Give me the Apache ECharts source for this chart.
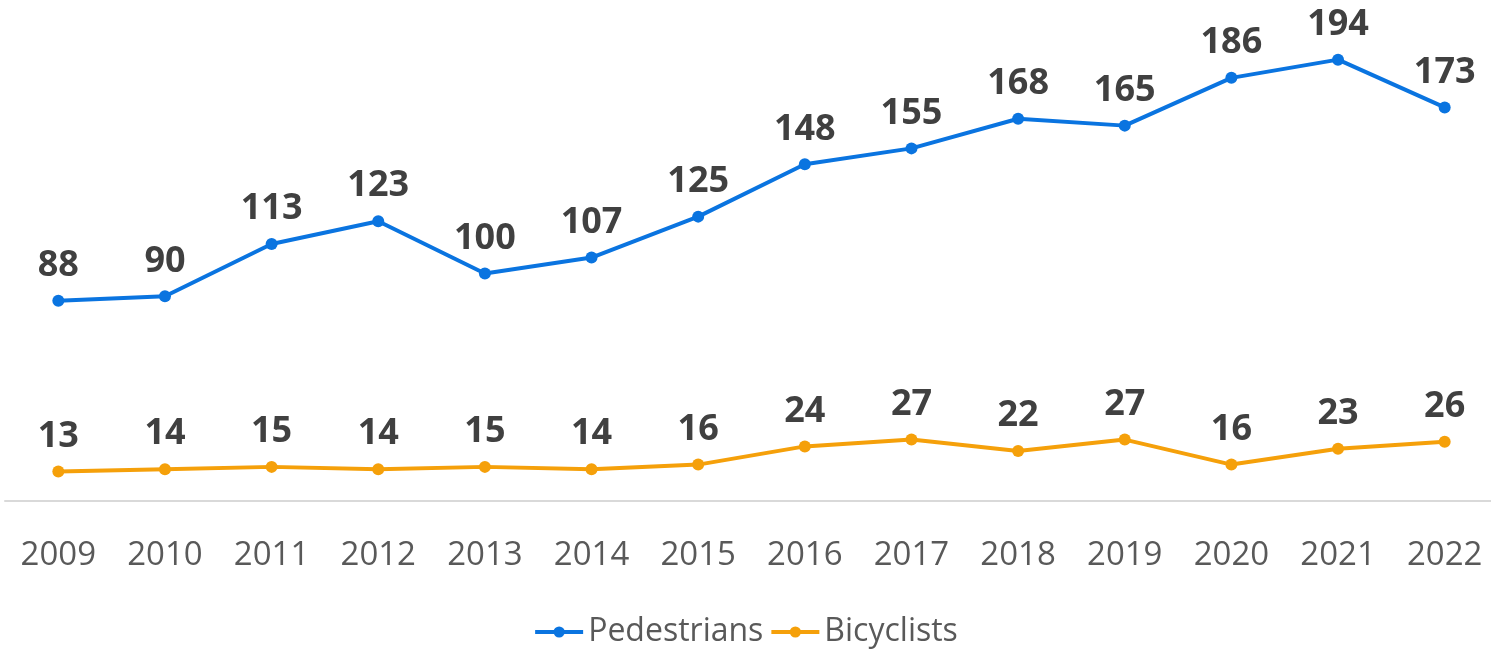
<!DOCTYPE html>
<html>
<head>
<meta charset="utf-8">
<script src="https://cdn.jsdelivr.net/npm/echarts@6/dist/echarts.min.js"></script>
<style>
  html, body { margin: 0; padding: 0; background: #fff; }
  #main { width: 1491px; height: 653px; }
</style>
</head>
<body>
<div id="main"></div>
<script>
const years = ['2009', '2010', '2011', '2012', '2013', '2014', '2015', '2016', '2017', '2018', '2019', '2020', '2021', '2022']
const pedestrians = [88, 90, 113, 123, 100, 107, 125, 148, 155, 168, 165, 186, 194, 173]
const bicyclists = [13, 14, 15, 14, 15, 14, 16, 24, 27, 22, 27, 16, 23, 26]

const font = "'Open Sans', 'Noto Sans', sans-serif"

function lineSeries (name, data, color) {
  return {
    name: name,
    type: 'line',
    data: data,
    symbol: 'circle',
    symbolSize: 12,
    lineStyle: { width: 4, color: color },
    itemStyle: { color: color },
    label: {
      show: true,
      position: 'top',
      distance: 11,
      fontFamily: font,
      fontWeight: 'bold',
      fontSize: 36,
      color: '#404040'
    }
  }
}

let myChart = echarts.init(document.getElementById('main'))
let option = {
  animation: false,
  grid: { left: 5, width: 1493, top: 46, bottom: 152, outerBoundsMode: 'none' },
  legend: {
    bottom: 0,
    left: 'center',
    itemWidth: 48,
    itemHeight: 14,
    itemGap: 6,
    lineStyle: { width: 4 },
    textStyle: { fontFamily: font, fontSize: 32, color: '#595959' },
    data: ['Pedestrians', 'Bicyclists']
  },
  xAxis: {
    type: 'category',
    data: years,
    axisLine: { lineStyle: { color: '#d9d9d9', width: 2 } },
    axisTick: { show: false },
    axisLabel: { margin: 38, fontFamily: font, fontSize: 33, color: '#595959' }
  },
  yAxis: {
    type: 'value',
    min: 0,
    max: 200,
    show: false,
    splitLine: { show: false }
  },
  series: [
    lineSeries('Pedestrians', pedestrians, '#0A74E0'),
    lineSeries('Bicyclists', bicyclists, '#F5A00A')
  ]
}
myChart.setOption(option)
</script>
</body>
</html>
